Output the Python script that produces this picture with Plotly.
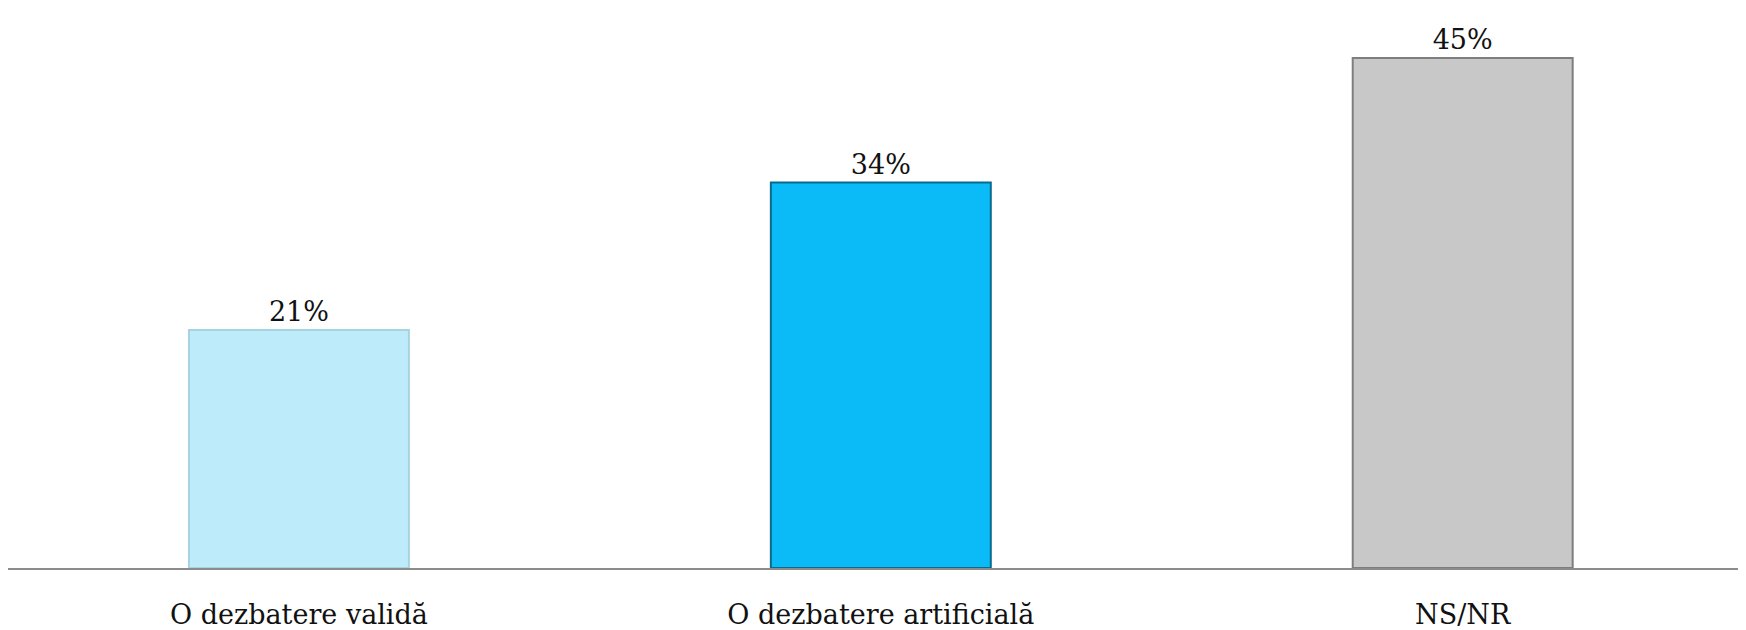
import plotly.graph_objects as go

categories = ["O dezbatere validă", "O dezbatere artificială", "NS/NR"]
values = [21, 34, 45]
labels = ["21%", "34%", "45%"]
colors = ["#BEEBFA", "#0ABBF8", "#C8C8C8"]
edge_colors = ["#A6D3E0", "#0A6C8C", "#7E7E7E"]

FONT = "DejaVu Serif"

fig = go.Figure(
    go.Bar(
        x=categories,
        y=values,
        text=labels,
        textposition="outside",
        cliponaxis=False,
        textfont=dict(family=FONT, size=27, color="#111111"),
        marker=dict(color=colors, line=dict(color=edge_colors, width=2)),
        width=0.378,
    )
)

# page body has an 8px default margin, so the figure is sized to fit inside
fig.update_layout(
    width=1738,
    height=622,
    margin=dict(l=0, r=4, t=0, b=59),
    paper_bgcolor="white",
    plot_bgcolor="white",
    showlegend=False,
    font=dict(family=FONT, size=27, color="#111111"),
)
fig.update_xaxes(
    range=[-0.5, 2.48],
    showline=True,
    linecolor="#8C8C8C",
    linewidth=2,
    ticks="",
    ticklabelstandoff=22,
    tickfont=dict(family=FONT, size=27, color="#111111"),
    showgrid=False,
)
fig.update_yaxes(
    range=[0, 49.4],
    visible=False,
    showgrid=False,
    zeroline=False,
)

fig.write_html("out.html")
